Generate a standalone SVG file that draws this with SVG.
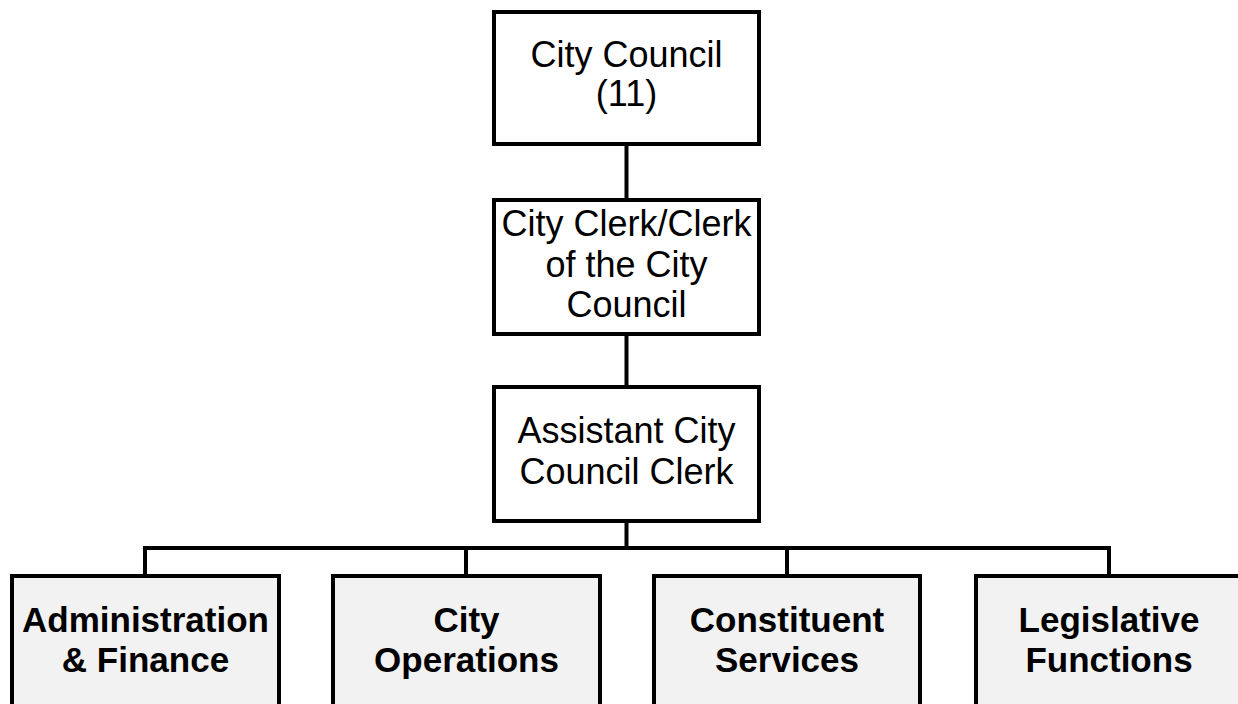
<svg xmlns="http://www.w3.org/2000/svg" width="1238" height="704" viewBox="0 0 1238 704">
<style>
.box{fill:#ffffff;stroke:#000;stroke-width:4}
.sub{fill:#f2f2f2;stroke:#000;stroke-width:4}
.t{font-family:"Liberation Sans",Arial,sans-serif;font-size:36px;fill:#000;text-anchor:middle}
.b{font-family:"Liberation Sans",Arial,sans-serif;font-size:35px;font-weight:bold;fill:#000;text-anchor:middle}
.c{fill:none;stroke:#000;stroke-width:4}
</style>
<rect width="1238" height="704" fill="#fff"/>
<g id="connectors">
<path class="c" d="M626.5 144V200M626.5 334V387M626.5 521V548M145 548H1109M145 546V576M466 546V576M787 546V576M1109 546V576"/>
</g>
<g id="council">
<rect class="box" x="494" y="12" width="265" height="132"/>
<text class="t" x="626.5" y="67">City Council</text>
<text class="t" x="626.5" y="106">(11)</text>
</g>
<g id="clerk">
<rect class="box" x="494" y="200" width="265" height="134"/>
<text class="t" x="626.5" y="236">City Clerk/Clerk</text>
<text class="t" x="626.5" y="277">of the City</text>
<text class="t" x="626.5" y="317">Council</text>
</g>
<g id="assistant">
<rect class="box" x="494" y="387" width="265" height="134"/>
<text class="t" x="626.5" y="443">Assistant City</text>
<text class="t" x="626.5" y="484">Council Clerk</text>
</g>
<g id="admin">
<rect class="sub" x="12" y="576" width="267" height="200"/>
<text class="b" x="145.5" y="632">Administration</text>
<text class="b" x="145.5" y="672">&amp; Finance</text>
</g>
<g id="operations">
<rect class="sub" x="333" y="576" width="267" height="200"/>
<text class="b" x="466.5" y="632">City</text>
<text class="b" x="466.5" y="672">Operations</text>
</g>
<g id="constituent">
<rect class="sub" x="654" y="576" width="266" height="200"/>
<text class="b" x="787" y="632">Constituent</text>
<text class="b" x="787" y="672">Services</text>
</g>
<g id="legislative">
<rect class="sub" x="976" y="576" width="300" height="200"/>
<text class="b" x="1109" y="632">Legislative</text>
<text class="b" x="1109" y="672">Functions</text>
</g>
</svg>
